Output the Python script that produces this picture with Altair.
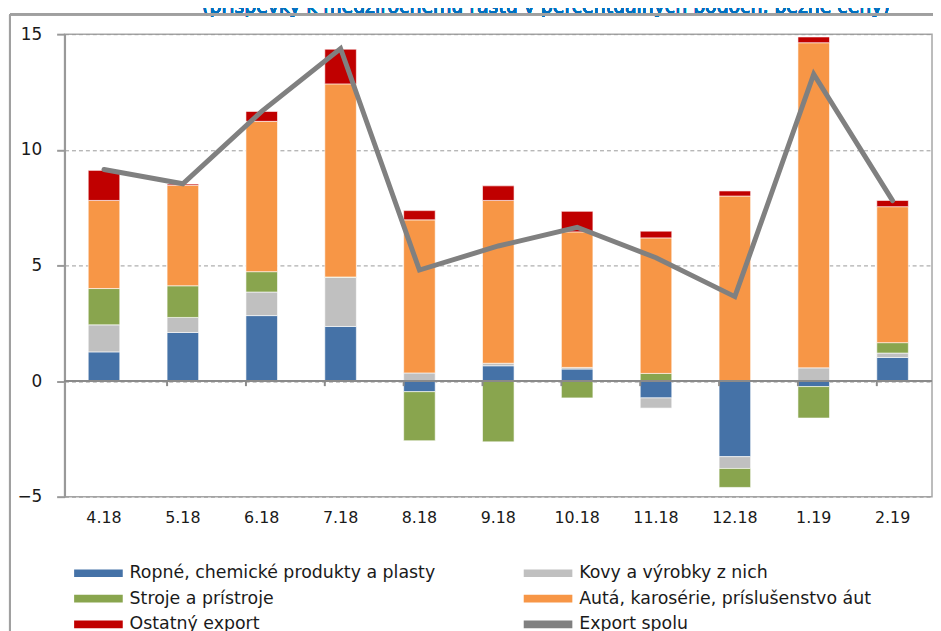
import altair as alt
import pandas as pd

months = ["4.18", "5.18", "6.18", "7.18", "8.18", "9.18", "10.18", "11.18", "12.18", "1.19", "2.19"]
series = ["Ropné, chemické produkty a plasty", "Kovy a výrobky z nich", "Stroje a prístroje",
          "Autá, karosérie, príslušenstvo áut", "Ostatný export", "Export spolu"]
colors = ["#4572A7", "#C0C0C0", "#89A54E", "#F79646", "#C00000", "#808080"]

ropne = [1.26, 2.10, 2.83, 2.36, -0.46, 0.66, 0.52, -0.73, -3.27, -0.24, 1.02]
kovy = [1.17, 0.65, 1.02, 2.12, 0.35, 0.11, 0.07, -0.44, -0.51, 0.57, 0.19]
stroje = [1.57, 1.37, 0.88, 0.02, -2.12, -2.63, -0.73, 0.33, -0.82, -1.36, 0.45]
auta = [3.81, 4.35, 6.50, 8.35, 6.62, 7.04, 5.86, 5.86, 8.00, 14.06, 5.88]
ostatny = [1.30, 0.05, 0.43, 1.50, 0.40, 0.63, 0.89, 0.29, 0.22, 0.25, 0.27]
spolu = [9.15, 8.53, 11.66, 14.38, 4.80, 5.84, 6.65, 5.33, 3.65, 13.27, 7.80]
y_ticks = [-5, 0, 5, 10, 15]
title_text = "(príspevky k medziročnému rastu v percentuálnych bodoch, bežné ceny)"

rows = []
for s_i, vals in enumerate([ropne, kovy, stroje, auta, ostatny]):
    for m_i, m in enumerate(months):
        rows.append({"mesiac": m, "skupina": series[s_i], "poradie": s_i, "hodnota": vals[m_i]})
bars_df = pd.DataFrame(rows)
line_df = pd.DataFrame({"mesiac": months, "hodnota": spolu})
tick_df = pd.DataFrame({"mesiac": months[1:]})

FONT = "DejaVu Sans"
W, H = 874, 466

x_enc = alt.X("mesiac:N", sort=months,
              scale=alt.Scale(paddingInner=0.6, paddingOuter=0.3),
              axis=alt.Axis(title=None, ticks=False, domain=False, labelAngle=0,
                            labelFont=FONT, labelFontSize=16, labelColor="#1a1a1a",
                            labelPadding=13, grid=False))
y_scale = alt.Scale(domain=[-5, 15], nice=False, zero=False)

# wide flat swatch drawn from a small nominal symbol size so legend rows stay compact
swatch = "M-1,-0.63H7V0.63H-1Z"

bars = alt.Chart(bars_df).mark_bar(stroke="white", strokeWidth=0.6).encode(
    x=x_enc,
    y=alt.Y("hodnota:Q", stack="zero", scale=y_scale,
            axis=alt.Axis(title=None, values=y_ticks, grid=True, gridColor="#9a9a9a",
                          gridDash=[4, 3], gridWidth=1, domainColor="#999999", domainWidth=2,
                          tickColor="#999999", tickWidth=2, tickSize=8,
                          labelFont=FONT, labelFontSize=17, labelColor="#1a1a1a",
                          labelPadding=15)),
    color=alt.Color("skupina:N", scale=alt.Scale(domain=series, range=colors),
                    legend=alt.Legend(title=None, orient="none", legendX=7, legendY=534,
                                      direction="horizontal",
                                      columns=2, columnPadding=86, rowPadding=7,
                                      symbolSize=150, labelOffset=41, labelLimit=500,
                                      labelFont=FONT, labelFontSize=17.5, labelColor="#1a1a1a",
                                      symbolStrokeWidth=0, padding=0,
                                      symbolType=swatch)),
    order=alt.Order("poradie:Q", sort="ascending"),
)

zero = alt.Chart(line_df).mark_rule(color="#8a8a8a", strokeWidth=2).encode(y=alt.datum(0, scale=y_scale))

ticks = alt.Chart(tick_df).mark_rule(color="#8a8a8a", strokeWidth=2).encode(
    x=alt.X("mesiac:N", sort=months, bandPosition=0),
    y=alt.datum(0),
    y2=alt.datum(-0.22),
)

line = alt.Chart(line_df).mark_line(color="#808080", strokeWidth=5, strokeCap="round",
                                    strokeJoin="miter").encode(
    x=alt.X("mesiac:N", sort=months),
    y=alt.Y("hodnota:Q", scale=y_scale),
)

title = alt.Chart(line_df).mark_text(font=FONT, fontSize=19, color="#0070C0",
                                     align="center", baseline="alphabetic").encode(
    x=alt.value(485), y=alt.value(-21), text=alt.value(title_text))

frame_top = alt.Chart(line_df).mark_rule(color="#a0a0a0", strokeWidth=2).encode(
    x=alt.value(-55), x2=alt.value(W + 2), y=alt.value(-20))
frame_left = alt.Chart(line_df).mark_rule(color="#a0a0a0", strokeWidth=2).encode(
    x=alt.value(-55), y=alt.value(-20), y2=alt.value(H + 200))

chart = alt.layer(bars, zero, ticks, line, title, frame_top, frame_left).properties(
    width=W, height=H,
    autosize=alt.AutoSizeParams(type="none"),
    padding={"left": 57, "top": 24, "right": 1, "bottom": 135},
    background="white",
).configure_view(stroke="#a6a6a6", strokeWidth=1.5).configure_axis(
    labelFont=FONT
)

chart.save("out.html", embed_options={"renderer": "svg", "actions": False})
